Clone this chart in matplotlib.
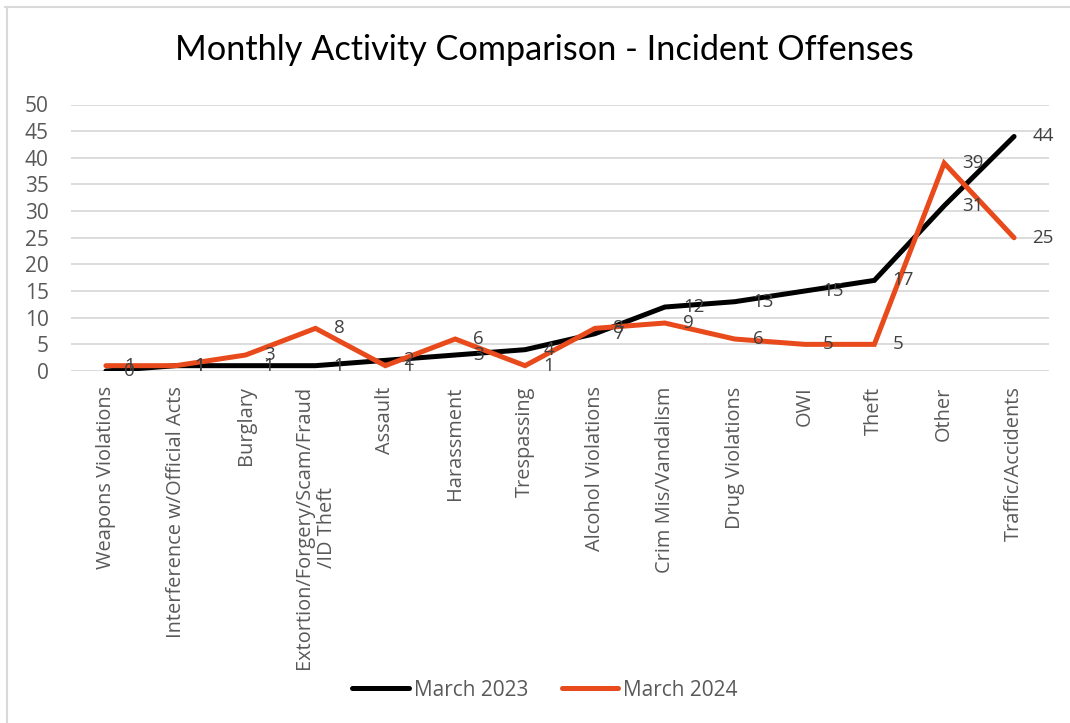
import matplotlib.pyplot as plt
from matplotlib.lines import Line2D

categories = ['Weapons Violations', 'Interference w/Official Acts', 'Burglary',
              'Extortion/Forgery/Scam/Fraud\n/ID Theft', 'Assault', 'Harassment',
              'Trespassing', 'Alcohol Violations', 'Crim Mis/Vandalism',
              'Drug Violations', 'OWI', 'Theft', 'Other', 'Traffic/Accidents']
march_2023 = [0, 1, 1, 1, 2, 3, 4, 7, 12, 13, 15, 17, 31, 44]
march_2024 = [1, 1, 3, 8, 1, 6, 1, 8, 9, 6, 5, 5, 39, 25]
yticks = list(range(0, 55, 5))

RED = '#E84A1B'
GRAY_TXT = '#595959'
LBL_TXT = '#404040'
FONT = ['Open Sans', 'Lato', 'DejaVu Sans']

fig = plt.figure(figsize=(10.7, 7.23), dpi=100)
n = len(categories)
x = list(range(n))

left, right, top, bottom = 71, 1049, 104.5, 371
ax = fig.add_axes([left / 1070, 1 - bottom / 723, (right - left) / 1070, (bottom - top) / 723])

ax.plot(x, march_2023, color='black', lw=3.6, solid_capstyle='round', solid_joinstyle='miter', zorder=3)
ax.plot(x, march_2024, color=RED, lw=3.6, solid_capstyle='round', solid_joinstyle='miter', zorder=4)

for xi, v in zip(x, march_2023):
    ax.annotate(str(v), (xi, v), xytext=(13, 0), textcoords='offset points',
                ha='left', va='center', fontsize=13.5, color=LBL_TXT, family=FONT, zorder=5)
for xi, v in zip(x, march_2024):
    ax.annotate(str(v), (xi, v), xytext=(13, 0), textcoords='offset points',
                ha='left', va='center', fontsize=13.5, color=LBL_TXT, family=FONT, zorder=5)

ax.set_xlim(-0.5, n - 0.5)
ax.set_ylim(0, 50)
ax.set_yticks(yticks)
ax.set_yticklabels([str(t) for t in yticks], family=FONT, fontsize=15, color=GRAY_TXT)
ax.set_xticks(x)
ax.set_xticklabels(categories, rotation=90, family=FONT, fontsize=14.4, color=GRAY_TXT,
                   multialignment='center')
ax.tick_params(axis='both', length=0)
ax.tick_params(axis='y', pad=16)
ax.tick_params(axis='x', pad=11)
ax.grid(axis='y', color='#d9d9d9', lw=1.3)
ax.set_axisbelow(True)
for s in ax.spines.values():
    s.set_visible(False)

fig.text(544 / 1070, 1 - 50 / 723, 'Monthly Activity Comparison - Incident Offenses',
         ha='center', va='center', fontsize=24.7, color='black',
         family=['Liberation Sans Narrow', 'Lato', 'DejaVu Sans'])

handles = [Line2D([], [], color='black', lw=3.6, solid_capstyle='round'),
           Line2D([], [], color=RED, lw=3.6, solid_capstyle='round')]
leg = fig.legend(handles, ['March 2023', 'March 2024'], loc='center',
                 bbox_to_anchor=(545 / 1070, 1 - 690 / 723), ncol=2, frameon=False,
                 handlelength=2.7, handletextpad=0.25, columnspacing=1.6,
                 prop={'family': FONT, 'size': 15})
for t in leg.get_texts():
    t.set_color(GRAY_TXT)

# chart border (top and left edges visible)
fig.add_artist(Line2D([5 / 1070, 1], [1 - 6.5 / 723, 1 - 6.5 / 723], color='#d9d9d9', lw=1.5))
fig.add_artist(Line2D([6.5 / 1070, 6.5 / 1070], [0, 1 - 6.5 / 723], color='#d9d9d9', lw=1.5))

fig.savefig('out.png', dpi=100)
